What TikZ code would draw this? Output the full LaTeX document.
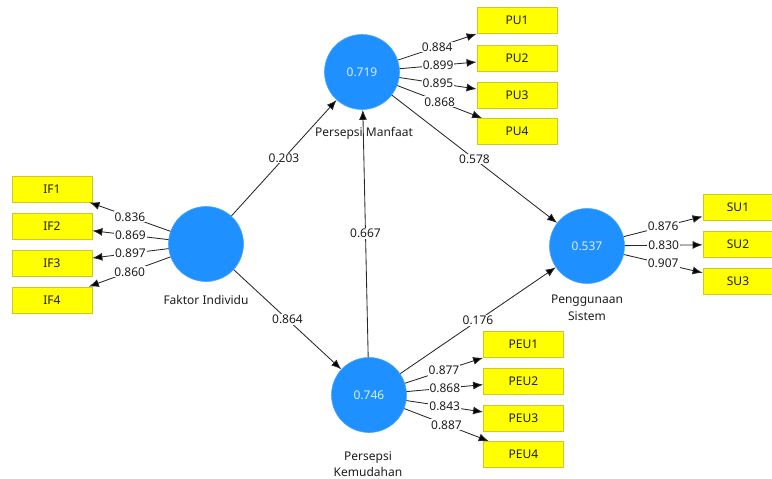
\documentclass[tikz,border=0pt]{standalone}
\usepackage{fontspec}
\setmainfont{Noto Sans}
\usetikzlibrary{arrows.meta}
\definecolor{lvblue}{RGB}{30,144,255}
\definecolor{lvtext}{RGB}{220,238,255}
\definecolor{mvfill}{RGB}{255,255,0}
\definecolor{mvdraw}{RGB}{205,200,40}
\definecolor{edgecol}{RGB}{40,40,40}
\definecolor{txtcol}{RGB}{30,30,30}
\tikzset{
  latent/.style={circle, fill=lvblue, draw=lvblue!80!white, line width=0.6pt,
    minimum size=75pt, inner sep=0pt, text=lvtext, font=\fontsize{12}{14}\selectfont},
  manifest/.style={rectangle, fill=mvfill, draw=mvdraw, line width=0.8pt,
    minimum width=80pt, minimum height=26pt, inner sep=0pt, text=txtcol,
    font=\fontsize{12}{14}\selectfont},
  lvname/.style={text=txtcol, font=\fontsize{12}{14}\selectfont, align=center, inner sep=1pt},
  path/.style={draw=edgecol, line width=0.85pt,
    -{Latex[length=10pt,width=8pt,fill=black]}},
  coef/.style={fill=white, text=txtcol, inner sep=1pt, font=\fontsize{12}{14}\selectfont}
}
\begin{document}
\begin{tikzpicture}[x=1pt,y=-1pt]
\clip (0,0) rectangle (772,479);
\fill[white] (0,0) rectangle (772,479);

% latent variables
\node[latent] (fi) at (206,244) {};
\node[latent] (pm) at (362,72) {0.719};
\node[latent] (pk) at (369,395) {0.746};
\node[latent] (ps) at (587,246) {0.537};

% latent variable names
\node[lvname] (fiName) at (206,300) {Faktor Individu};
\node[lvname] (pmName) at (364,133) {Persepsi Manfaat};
\node[lvname, font=\fontsize{12}{16.5}\selectfont] (pkName) at (368,464) {Persepsi\\Kemudahan};
\node[lvname, font=\fontsize{12}{16.5}\selectfont] (psName) at (587,308) {Penggunaan\\Sistem};

% indicators
\node[manifest] (if1) at (52,189) {IF1};
\node[manifest] (if2) at (52,226) {IF2};
\node[manifest] (if3) at (52,263) {IF3};
\node[manifest] (if4) at (52,300) {IF4};

\node[manifest] (pu1) at (517,20.5) {PU1};
\node[manifest] (pu2) at (517,58.5) {PU2};
\node[manifest] (pu3) at (517,95) {PU3};
\node[manifest] (pu4) at (517,131.5) {PU4};

\node[manifest] (peu1) at (523.5,344.5) {PEU1};
\node[manifest] (peu2) at (523.5,381) {PEU2};
\node[manifest] (peu3) at (523.5,418) {PEU3};
\node[manifest] (peu4) at (523.5,454.5) {PEU4};

\node[manifest, minimum width=70pt] (su1) at (738,207.5) {SU1};
\node[manifest, minimum width=70pt] (su2) at (738,244.5) {SU2};
\node[manifest, minimum width=70pt] (su3) at (738,281) {SU3};

% structural paths
\path[path] (fi) -- node[coef] {0.203} (pm);
\path[path] (fi) -- node[coef] {0.864} (pk);
\path[path] (pk) -- node[coef] {0.667} (pm);
\path[path] (pm) -- node[coef] {0.578} (ps);
\path[path] (pk) -- node[coef] {0.176} (ps);

% outer loadings
\path[path] (fi) -- node[coef] {0.836} (if1);
\path[path] (fi) -- node[coef] {0.869} (if2);
\path[path] (fi) -- node[coef] {0.897} (if3);
\path[path] (fi) -- node[coef] {0.860} (if4);

\path[path] (pm) -- node[coef] {0.884} (pu1);
\path[path] (pm) -- node[coef] {0.899} (pu2);
\path[path] (pm) -- node[coef] {0.895} (pu3);
\path[path] (pm) -- node[coef] {0.868} (pu4);

\path[path] (pk) -- node[coef] {0.877} (peu1);
\path[path] (pk) -- node[coef] {0.868} (peu2);
\path[path] (pk) -- node[coef] {0.843} (peu3);
\path[path] (pk) -- node[coef] {0.887} (peu4);

\path[path] (ps) -- node[coef] {0.876} (su1);
\path[path] (ps) -- node[coef] {0.830} (su2);
\path[path] (ps) -- node[coef] {0.907} (su3);
\end{tikzpicture}
\end{document}
